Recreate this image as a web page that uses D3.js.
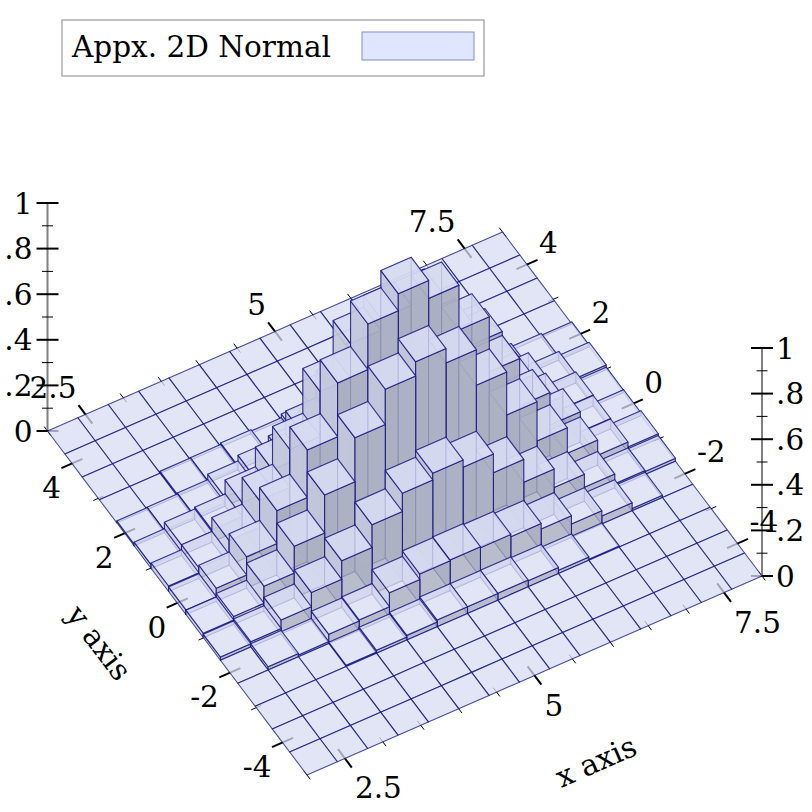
<!DOCTYPE html>
<html><head><meta charset="utf-8">
<script src="https://cdn.jsdelivr.net/npm/d3@7/dist/d3.min.js"></script>
<style>html,body{margin:0;padding:0;background:#fff}svg{display:block}text{font-family:"DejaVu Serif";font-size:29.5px;fill:#000}</style>
</head><body><svg id="c" width="812" height="812"></svg>
<script>
const xEdges=[2,2.4,2.8,3.2,3.6,4,4.4,4.8,5.2,5.6,6,6.4,6.8,7.2,7.6,8];
const yEdges=[-4.93,-4.27,-3.61,-2.96,-2.3,-1.64,-0.99,-0.33,0.33,0.99,1.64,2.3,2.96,3.61,4.27,4.93];
const heights=[
[0,0,0,0,0,0,0,0,0,0,0,0,0,0,0],
[0,0,0,0,0,0,0,0,0,0,0,0,0,0,0],
[0,0,0,0,0,0,0,0,0,0,0,0,0,0,0],
[0,0,0,.005,.013,.02,.029,.029,.03,.027,.015,.005,0,0,0],
[0,.014,.008,.04,.045,.106,.13,.133,.129,.119,.095,.058,.035,.01,0],
[.014,.023,.06,.122,.203,.303,.383,.413,.381,.299,.199,.117,.06,.017,.013],
[.019,.034,.109,.226,.392,.585,.74,.802,.739,.583,.394,.222,.11,.043,.021],
[.02,.057,.137,.281,.489,.725,.925,1,.921,.724,.483,.275,.133,.045,.012],
[.024,.046,.107,.224,.39,.586,.738,.79,.79,.6,.5,.25,.1,.047,.01],
[.016,.045,.053,.114,.2,.3,.42,.48,.5,.4,.3,.15,.09,.038,.02],
[.008,.01,.014,.038,.063,.09,.15,.2,.2,.2,.15,.08,.03,.015,.008],
[0,0,.008,.01,.016,.01,.027,.03,.03,.03,.03,.02,.01,0,0],
[0,0,0,0,0,0,0,0,0,0,0,0,0,0,0],
[0,0,0,0,0,0,0,0,0,0,0,0,0,0,0],
[0,0,0,0,0,0,0,0,0,0,0,0,0,0,0]];
const xMajor=[2.5,5,7.5], xMinor=[2,3,3.5,4,4.5,5.5,6,6.5,7,8];
const yMajor=[-4,-2,0,2,4], yMinor=[-3,-1,1,3];
const zMajor=[0,.2,.4,.6,.8,1], zMinor=[.1,.3,.5,.7,.9];
const zLabels=["0",".2",".4",".6",".8","1"];
const legendLabel="Appx. 2D Normal";

const FILL=.75;
const faceTop="rgb(216,220,243)", faceLeft="rgb(192,196,216)", faceRight="rgb(162,165,184)", faceBack="rgb(208,212,232)";
const lineCol="rgb(10,10,125)", lineOp=.72, backOp=.35;

const ox=307,oy=775;
const xSX=d3.scaleLinear().domain([2,8]).range([0,455]);
const xSY=d3.scaleLinear().domain([2,8]).range([0,-199]);
const ySX=d3.scaleLinear().domain([-4.93,4.93]).range([0,-259.5]);
const ySY=d3.scaleLinear().domain([-4.93,4.93]).range([0,-344]);
const zSY=d3.scaleLinear().domain([0,1]).range([0,-228]);
const P=(x,y,z=0)=>[ox+xSX(x)+ySX(y), oy+xSY(x)+ySY(y)+zSY(z)];
const svg=d3.select("#c");
const path=d3.line();

const gT=svg.append("g").attr("stroke","#000");
function seg(a,b,w,op){gT.append("line").attr("x1",a[0]).attr("y1",a[1]).attr("x2",b[0]).attr("y2",b[1]).attr("stroke-width",w).attr("stroke-opacity",op===undefined?1:op);}
const ux=[.917,-.40], uy=[-.60,-.80];
function tick(p,u,len,w){seg([p[0]-u[0]*len,p[1]-u[1]*len],[p[0]+u[0]*len,p[1]+u[1]*len],w);}
const yMin=-4.93,yMax=4.93;
xMajor.forEach(v=>{tick(P(v,yMin),uy,11.5,2);tick(P(v,yMax),uy,11.5,2);});
xMinor.forEach(v=>{tick(P(v,yMin),uy,5.5,1);tick(P(v,yMax),uy,5.5,1);});
yMajor.forEach(v=>{tick(P(2,v),ux,11.5,2);tick(P(8,v),ux,11.5,2);});
yMinor.forEach(v=>{tick(P(2,v),ux,5.5,1);tick(P(8,v),ux,5.5,1);});

[[2,yMax],[8,yMin]].forEach(c=>{
  const a=P(c[0],c[1],0),b=P(c[0],c[1],1);
  gT.append("line").attr("x1",a[0]).attr("y1",a[1]).attr("x2",b[0]).attr("y2",b[1]).attr("stroke","#808080").attr("stroke-width",2);
  zMajor.forEach(z=>{const p=P(c[0],c[1],z);seg([p[0]-11,p[1]],[p[0]+11,p[1]],2);});
  zMinor.forEach(z=>{const p=P(c[0],c[1],z);seg([p[0]-5.5,p[1]],[p[0]+5.5,p[1]],1);});
});

const gB=svg.append("g").attr("stroke",lineCol).attr("stroke-opacity",lineOp).attr("stroke-width",1.1).attr("stroke-linejoin","round");
function poly(pts,col,op){const e=gB.append("path").attr("d",path(pts)+"Z").attr("fill",col).attr("fill-opacity",FILL);if(op!==undefined)e.attr("stroke-opacity",op);}
for(let j=14;j>=0;j--)for(let i=14;i>=0;i--){
  const h=heights[j][i],x0=xEdges[i],x1=xEdges[i+1],y0=yEdges[j],y1=yEdges[j+1];
  if(h>0){
    poly([P(x1,y1,0),P(x0,y1,0),P(x0,y1,h),P(x1,y1,h)],faceBack,backOp);
    poly([P(x1,y0,0),P(x1,y1,0),P(x1,y1,h),P(x1,y0,h)],faceBack,backOp);
    poly([P(x0,y0,0),P(x0,y1,0),P(x0,y1,h),P(x0,y0,h)],faceLeft);
    poly([P(x0,y0,0),P(x1,y0,0),P(x1,y0,h),P(x0,y0,h)],faceRight);
  }
  poly([P(x0,y0,h),P(x1,y0,h),P(x1,y1,h),P(x0,y1,h)],faceTop);
}

const gL=svg.append("g");
function label(t,x,y,anchor,rot){const e=gL.append("text").text(t).attr("text-anchor",anchor);
  if(rot!==undefined)e.attr("transform",`translate(${x},${y}) rotate(${rot})`);else e.attr("x",x).attr("y",y);}
const base=10.5;
xMajor.forEach(v=>{const a=P(v,yMin),b=P(v,yMax);
  label(String(v),a[0]+10,a[1]+29.5+base,"start");
  label(String(v),b[0]-9,b[1]-27+base,"end");});
yMajor.forEach(v=>{const a=P(2,v),b=P(8,v);
  label(String(v),a[0]-11,a[1]+24+base,"end");
  label(String(v),b[0]+12,b[1]-22+base,"start");});
zMajor.forEach((z,k)=>{const a=P(2,yMax,z),b=P(8,yMin,z);
  label(zLabels[k],a[0]-15,a[1]+base,"end");
  label(zLabels[k],b[0]+14,b[1]+base,"start");});
label("x axis",600,771,"middle",-23.6);
label("y axis",91,649,"middle",52.6);

const gG=svg.append("g");
gG.append("rect").attr("x",62).attr("y",20).attr("width",422).attr("height",56).attr("fill","#fff").attr("stroke","#999").attr("stroke-width",1.2);
gG.append("text").text(legendLabel).attr("x",72).attr("y",57);
gG.append("rect").attr("x",362).attr("y",32).attr("width",112).attr("height",28).attr("fill","rgb(224,230,253)").attr("stroke","rgb(130,140,210)").attr("stroke-width",1);
</script></body></html>
